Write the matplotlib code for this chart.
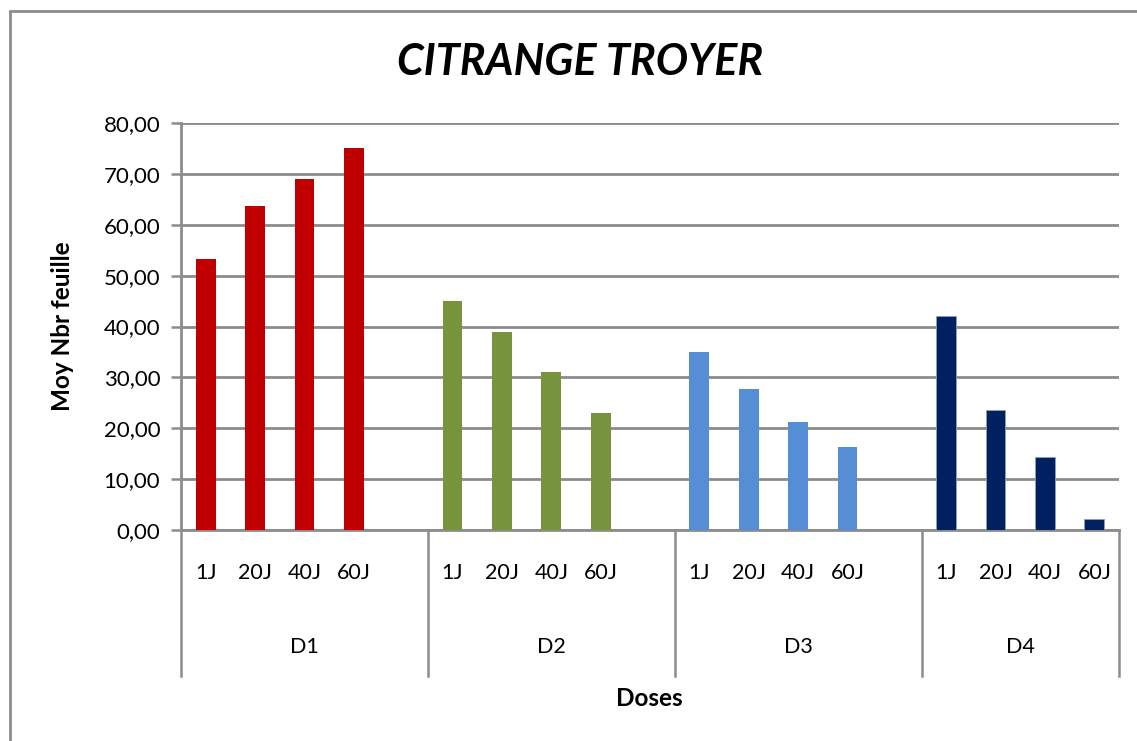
import numpy as np
import matplotlib
matplotlib.use("Agg")
import matplotlib.pyplot as plt
from matplotlib.patches import Rectangle

plt.rcParams['font.family'] = ['Lato', 'DejaVu Sans']

days = ['1J', '20J', '40J', '60J']
doses = ['D1', 'D2', 'D3', 'D4']
D1 = [53.2, 63.7, 69.0, 75.0]
D2 = [45.0, 38.9, 31.0, 23.0]
D3 = [35.0, 27.7, 21.2, 16.3]
D4 = [42.0, 23.6, 14.3, 2.2]
values = [D1, D2, D3, D4]
colors = ['#C00000', '#77933C', '#558ED5', '#002060']
yticks = [0, 10, 20, 30, 40, 50, 60, 70, 80]

grid_col = '#8c8c8c'

fig = plt.figure(figsize=(11.37, 7.41), dpi=100)
ax = fig.add_axes([181 / 1137, 211 / 741, 938 / 1137, 407 / 741])

# outer chart frame
fig.patches.append(Rectangle((9.5 / 1137, -0.05), 1.2, 730 / 741 + 0.05,
                             transform=fig.transFigure, fill=False,
                             edgecolor=grid_col, lw=2))

n_slots = 19
seps = [-0.5, 4.5, 9.5, 14.5, 18.5]
for g, vals in enumerate(values):
    x = np.arange(len(vals)) + g * 5
    ax.bar(x, vals, width=0.4, color=colors[g], zorder=3,
           edgecolor='#8da0c0' if g == 3 else colors[g], lw=0.6 if g == 3 else 0)
    for xi, d in zip(x, days):
        ax.text(xi, -0.106, d, transform=ax.get_xaxis_transform(),
                ha='center', va='center', fontsize=15.5)
    ax.text((seps[g] + seps[g + 1]) / 2, -0.287, doses[g],
            transform=ax.get_xaxis_transform(),
            ha='center', va='center', fontsize=15.5)

for xs in seps:
    ax.plot([xs, xs], [0, -0.359], transform=ax.get_xaxis_transform(),
            color=grid_col, lw=1.8, clip_on=False)

ax.set_xlim(-0.5, n_slots - 0.5)
ax.set_ylim(0, 80)
ax.set_yticks(yticks)
ax.set_yticklabels([f'{v:.2f}'.replace('.', ',') for v in yticks], fontsize=16)
ax.set_xticks([])
ax.grid(axis='y', color=grid_col, lw=2, zorder=0)
ax.set_axisbelow(True)
for s in ['top', 'right']:
    ax.spines[s].set_visible(False)
for s in ['left', 'bottom']:
    ax.spines[s].set_color(grid_col)
    ax.spines[s].set_linewidth(2)
ax.tick_params(axis='y', length=7, width=1.8, color=grid_col, pad=8)

fig.text(62 / 1137, 1 - 326 / 741, 'Moy Nbr feuille', ha='center', va='center',
         rotation=90, fontsize=17.5, fontweight='bold')
fig.text(649 / 1137, 1 - 698 / 741, 'Doses', ha='center', va='center',
         fontsize=17.5, fontweight='bold')
fig.text(580 / 1137, 1 - 62 / 741, 'CITRANGE TROYER', ha='center', va='center',
         fontsize=31, fontweight='bold', fontstyle='italic')

fig.savefig('out.png', dpi=100)
